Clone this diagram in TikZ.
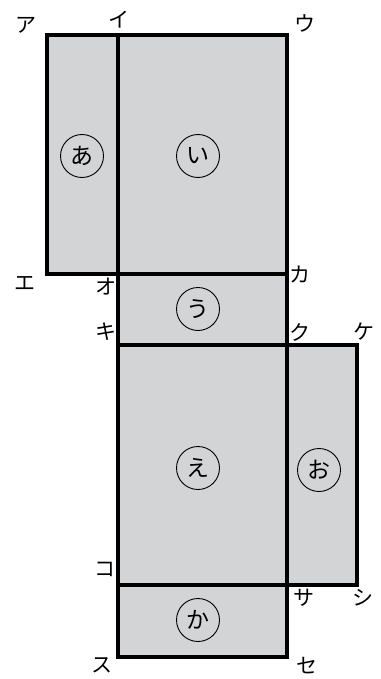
\documentclass[tikz,border=0pt]{standalone}
\usepackage{fontspec}
\newfontfamily\jpfont{Noto Sans CJK JP}
\definecolor{mengray}{RGB}{211,212,214}
\begin{document}
\begin{tikzpicture}[x=1pt,y=-1pt,
    men/.style={fill=mengray,draw=black,line width=3.2pt},
    maru/.style={circle,draw,line width=0.9pt,minimum size=43pt,inner sep=0pt,font=\jpfont\fontsize{23}{23}\selectfont},
    kata/.style={font=\jpfont\fontsize{21}{21}\selectfont}]
    \useasboundingbox (0,0) rectangle (380,679);
    \coordinate (A) at (47,35);
    \coordinate (I) at (118,35);
    \coordinate (E) at (47,274);
    \coordinate (O) at (118,274);
    \coordinate (Ka) at (287,274);
    \coordinate (Ki) at (118,345);
    \coordinate (Ku) at (287,345);
    \coordinate (Ke) at (357,345);
    \coordinate (Ko) at (118,585);
    \coordinate (Sa) at (287,585);
    \coordinate (Shi) at (357,585);
    \coordinate (Se) at (287,657);
    \draw[men] (A) rectangle (O);
    \draw[men] (I) rectangle (Ka);
    \draw[men] (O) rectangle (Ku);
    \draw[men] (Ki) rectangle (Sa);
    \draw[men] (Ku) rectangle (Shi);
    \draw[men] (Ko) rectangle (Se);

    \node (ma) at (82,156) [maru] {あ};
    \node (mi) at (198,156) [maru] {い};
    \node (mu) at (198,309) [maru] {う};
    \node (me) at (198,468) [maru] {え};
    \node (mo) at (319,470) [maru] {お};
    \node (mk) at (198,620) [maru] {か};

    \foreach \n/\x/\y/\t in {a/26/25/ア,i/119/20/イ,u/305/23/ウ,e/25/283/エ,o/106/287/オ,
      ka/300/275/カ,ki/106/332/キ,ku/300/332/ク,ke/364/332/ケ,ko/105/569/コ,
      sa/304/598/サ,shi/363/598/シ,su/102/665/ス,se/307/666/セ} {
      \node (l\n) at (\x,\y) [kata] {\t};
    }
  \end{tikzpicture}
\end{document}
